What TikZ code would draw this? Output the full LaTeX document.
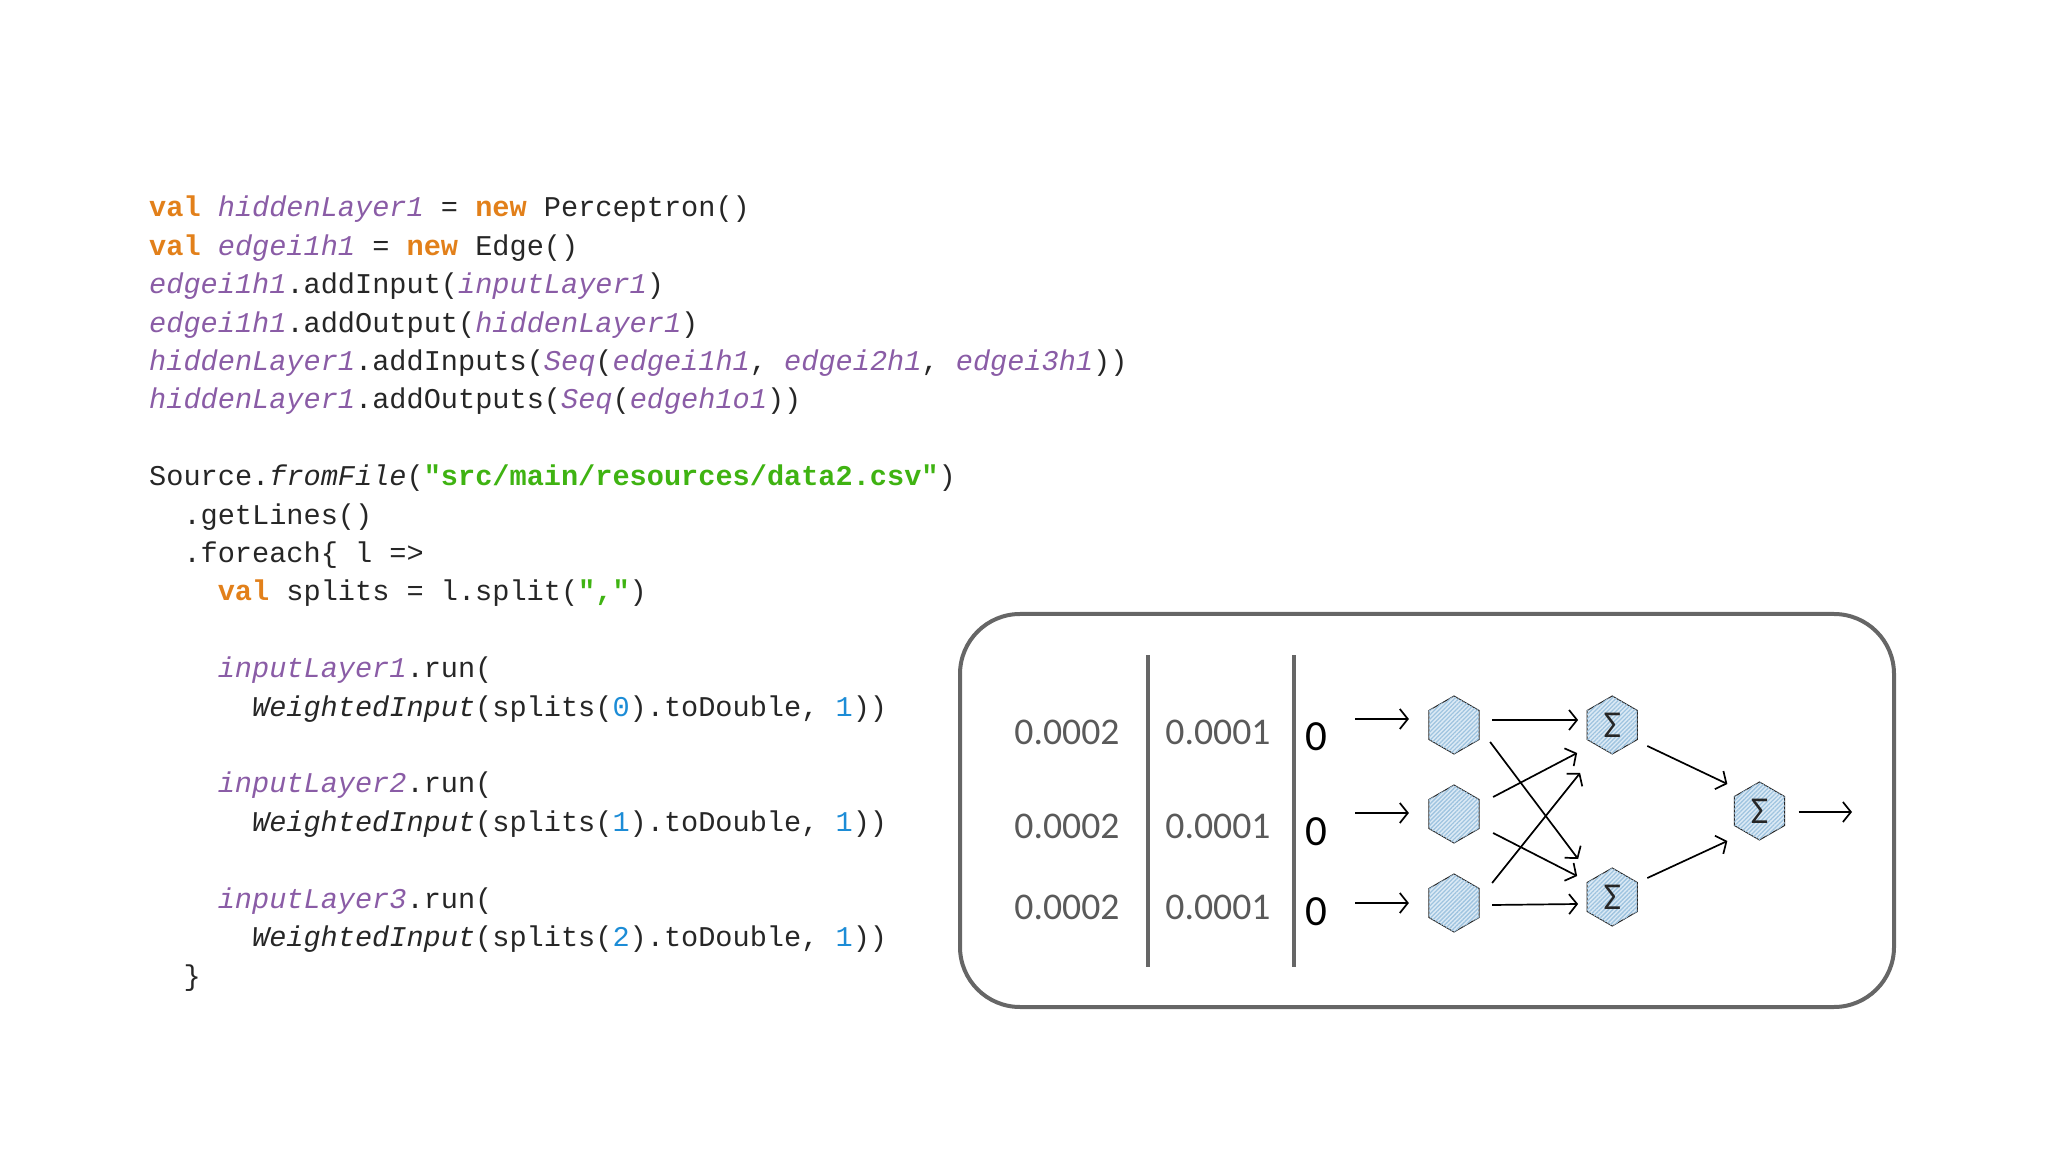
\documentclass[tikz,border=0pt]{standalone}
\usepackage{fontspec}
\setmonofont{Liberation Mono}
\setsansfont{Carlito}
\usetikzlibrary{positioning,shapes.geometric,arrows.meta,patterns.meta}
\definecolor{kwcol}{HTML}{E2801A}
\definecolor{varcol}{HTML}{8A5CA6}
\definecolor{strcol}{HTML}{3FB312}
\definecolor{numcol}{HTML}{1C8CD6}
\definecolor{inkcol}{HTML}{262626}
\definecolor{panelcol}{HTML}{666666}
\definecolor{cellcol}{HTML}{5A5A5A}
\definecolor{hexfill}{HTML}{DCEAF5}
\definecolor{hexhatch}{HTML}{9FC4E0}
\newcommand{\kw}[1]{\textcolor{kwcol}{\bfseries #1}}
\newcommand{\vr}[1]{\textcolor{varcol}{\itshape #1}}
\newcommand{\st}[1]{\textcolor{strcol}{\bfseries #1}}
\newcommand{\nm}[1]{\textcolor{numcol}{#1}}
\tikzset{%
  code/.style={%
    inner sep=0pt,
    text=inkcol,
    font=\ttfamily\fontsize{28.6}{34}\selectfont
  },
  row/.style={%
    below=38.4pt of #1.base west,
    anchor=base west
  },
  gaprow/.style={%
    below=76.8pt of #1.base west,
    anchor=base west
  },
  panel/.style={%
    draw=panelcol,
    line width=4pt,
    rounded corners=60pt,
    minimum width=934pt,
    minimum height=393pt
  },
  divider/.style={%
    fill=panelcol,
    inner sep=0pt,
    minimum width=3.5pt,
    minimum height=312pt
  },
  cell/.style={%
    inner sep=0pt,
    anchor=base,
    text=cellcol,
    font=\sffamily\fontsize{37.7}{40}\selectfont
  },
  zero/.style={%
    cell,
    text=black,
    font=\sffamily\fontsize{43}{46}\selectfont
  },
  hnode/.style={%
    regular polygon,
    regular polygon sides=6,
    shape border rotate=30,
    draw=inkcol,
    line width=1pt,
    inner sep=0pt,
    outer sep=0pt,
    minimum size=58pt,
    fill=hexfill,
    postaction={pattern={Lines[angle=45,distance=3pt,line width=1.3pt]},pattern color=hexhatch}
  },
  snode/.style={%
    hnode,
    text=inkcol,
    font=\sffamily\fontsize{38}{40}\selectfont
  },
  wire/.style={%
    line width=1.7pt,
    black,
    -{Straight Barb[length=8pt,width=20pt,line width=1.7pt]}
  }
}
\begin{document}
\begin{tikzpicture}[x=1pt,y=1pt]
  \useasboundingbox (0,0) rectangle (2048,1152);

  \node[code, anchor=base west] (l1) at (149,935) {\kw{val} \vr{hiddenLayer1} = \kw{new} Perceptron()};
  \node[code, row=l1] (l2) {\kw{val} \vr{edgei1h1} = \kw{new} Edge()};
  \node[code, row=l2] (l3) {\vr{edgei1h1}.addInput(\vr{inputLayer1})};
  \node[code, row=l3] (l4) {\vr{edgei1h1}.addOutput(\vr{hiddenLayer1})};
  \node[code, row=l4] (l5) {\vr{hiddenLayer1}.addInputs(\vr{Seq}(\vr{edgei1h1}, \vr{edgei2h1}, \vr{edgei3h1}))};
  \node[code, row=l5] (l6) {\vr{hiddenLayer1}.addOutputs(\vr{Seq}(\vr{edgeh1o1}))};

  \node[code, gaprow=l6] (l7) {Source.\textit{fromFile}(\st{"src/main/resources/data2.csv"})};
  \node[code, row=l7, xshift=34.3pt] (l8) {.getLines()};
  \node[code, row=l8] (l9) {.foreach\{ l =>};
  \node[code, row=l9, xshift=34.3pt] (l10) {\kw{val} splits = l.split(\st{","})};

  \node[code, gaprow=l10] (l11) {\vr{inputLayer1}.run(};
  \node[code, row=l11, xshift=34.3pt] (l12) {\textit{WeightedInput}(splits(\nm{0}).toDouble, \nm{1}))};
  \node[code, gaprow=l12, xshift=-34.3pt] (l13) {\vr{inputLayer2}.run(};
  \node[code, row=l13, xshift=34.3pt] (l14) {\textit{WeightedInput}(splits(\nm{1}).toDouble, \nm{1}))};
  \node[code, gaprow=l14, xshift=-34.3pt] (l15) {\vr{inputLayer3}.run(};
  \node[code, row=l15, xshift=34.3pt] (l16) {\textit{WeightedInput}(splits(\nm{2}).toDouble, \nm{1}))};
  \node[code, row=l16, xshift=-68.6pt] (l17) {\}};

  \node[panel] (box) at (1427,341.5) {};
  \node[divider] (d1) at (1148,341) {};
  \node[divider] (d2) at (1294,341) {};

  \node[cell] (a1) at (1067,407) {0.0002};
  \node[cell, below=93.5pt of a1.base, anchor=base] (a2) {0.0002};
  \node[cell, below=80.5pt of a2.base, anchor=base] (a3) {0.0002};
  \node[cell, right=151pt of a1.base, anchor=base] (b1) {0.0001};
  \node[cell, right=151pt of a2.base, anchor=base] (b2) {0.0001};
  \node[cell, right=151pt of a3.base, anchor=base] (b3) {0.0001};
  \node[zero] (z1) at (1316,401) {0};
  \node[zero, below=94.5pt of z1.base, anchor=base] (z2) {0};
  \node[zero, below=79.5pt of z2.base, anchor=base] (z3) {0};

  \node[hnode] (h1) at (1454,427) {};
  \node[hnode, below=31pt of h1] (h2) {};
  \node[hnode, below=31pt of h2] (h3) {};
  \node[snode, right=108pt of h1] (s1) {Σ};
  \node[snode, below=114pt of s1] (s2) {Σ};
  \node[snode, right=97pt of s1, yshift=-86pt] (o1) {Σ};

  \coordinate (in1) at (1355,433);
  \coordinate (in2) at (1355,339);
  \coordinate (in3) at (1355,249);
  \coordinate (out) at (1852,340);

  \path[wire]
    (in1) edge ([shift={(-20,6)}]h1.west)
    (in2) edge ([shift={(-20,1)}]h2.west)
    (in3) edge ([shift={(-20,0)}]h3.west)
    ([shift={(13,5)}]h1.east) edge ([shift={(-9,5)}]s1.west)
    ([shift={(11,-17)}]h1.east) edge ([shift={(-9,38)}]s2.west)
    ([shift={(14,17)}]h2.east) edge ([shift={(-10,-28)}]s1.west)
    ([shift={(14,-19)}]h2.east) edge ([shift={(-10,21)}]s2.west)
    ([shift={(13,20)}]h3.east) edge ([shift={(-7,-48)}]s1.west)
    ([shift={(13,-2)}]h3.east) edge ([shift={(-9,-7)}]s2.west)
    ([shift={(10,-21)}]s1.east) edge ([shift={(-7,27)}]o1.west)
    ([shift={(10,19)}]s2.east) edge ([shift={(-7,-30)}]o1.west)
    ([shift={(14,-1)}]o1.east) edge (out);
\end{tikzpicture}
\end{document}
